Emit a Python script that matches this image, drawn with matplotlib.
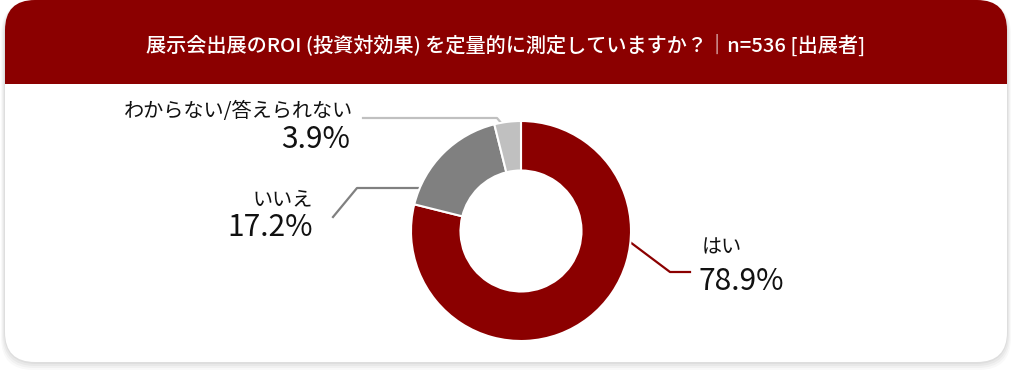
import matplotlib
matplotlib.use('Agg')
import matplotlib.pyplot as plt
from matplotlib.patches import FancyBboxPatch, Rectangle

plt.rcParams['font.family'] = ['Noto Sans CJK JP', 'DejaVu Sans']

title = '展示会出展のROI (投資対効果) を定量的に測定していますか？｜n=536 [出展者]'
labels = ['はい', 'いいえ', 'わからない/答えられない']
values = [78.9, 17.2, 3.9]
colors = ['#8b0000', '#808080', '#c0c0c0']

# label placement in pixels: (name x, name y, pct x, pct y, align)
label_pos = [
    (702, 248, 698, 281, 'left'),
    (313, 200, 313, 228, 'right'),
    (353, 112, 350, 140, 'right'),
]
leaders = [
    [(630, 242), (670, 272), (690, 272)],
    [(333, 217), (357, 188), (420, 188)],
    [(363, 118), (497, 118), (502, 124)],
]

W, H = 1024, 380
fig = plt.figure(figsize=(W / 100, H / 100), dpi=100)
fig.patch.set_facecolor('white')

bg = fig.add_axes([0, 0, 1, 1])
bg.set_xlim(0, W)
bg.set_ylim(H, 0)
bg.axis('off')

# soft shadow
for i, a in enumerate([0.025, 0.03, 0.035, 0.04]):
    g = 8 - 2 * i
    bg.add_patch(FancyBboxPatch((5 - g / 2, 2), 1002 + g, 360 + g, boxstyle='round,pad=0,rounding_size=32',
                                fc='black', ec='none', alpha=a, zorder=0))
# card
bg.add_patch(FancyBboxPatch((5, 0), 1002, 362, boxstyle='round,pad=0,rounding_size=30',
                            fc='white', ec='none', zorder=1))
# header band
bg.add_patch(FancyBboxPatch((5, 0), 1002, 130, boxstyle='round,pad=0,rounding_size=30',
                            fc='#8b0000', ec='none', zorder=2))
bg.add_patch(Rectangle((5, 84), 1002, 60, fc='white', ec='none', zorder=3))
bg.text(506, 45, title, color='white', fontsize=14.5, fontweight='medium',
        ha='center', va='center', zorder=4)

# donut
cx, cy, r = 521, 231, 110
pax = fig.add_axes([(cx - r) / W, (H - cy - r) / H, 2 * r / W, 2 * r / H])
pax.pie(values, colors=colors, startangle=90, counterclock=False, radius=1,
        wedgeprops=dict(width=0.45, edgecolor='white', linewidth=1.5))
pax.set_xlim(-1, 1)
pax.set_ylim(-1, 1)
pax.set_aspect('equal')
pax.axis('off')

for lab, val, col, pos, pts in zip(labels, values, colors, label_pos, leaders):
    nx, ny, px, py, ha = pos
    bg.text(nx, ny, lab, fontsize=14.5, color='#111111', ha=ha, va='center', zorder=5)
    bg.text(px, py, '%.1f%%' % val, fontsize=21.5, color='#111111',
            ha=ha, va='center', zorder=5)
    xs = [p[0] for p in pts]
    ys = [p[1] for p in pts]
    bg.plot(xs, ys, color=col, lw=1.6, zorder=5)

fig.savefig('out.png', dpi=100, facecolor='white')
